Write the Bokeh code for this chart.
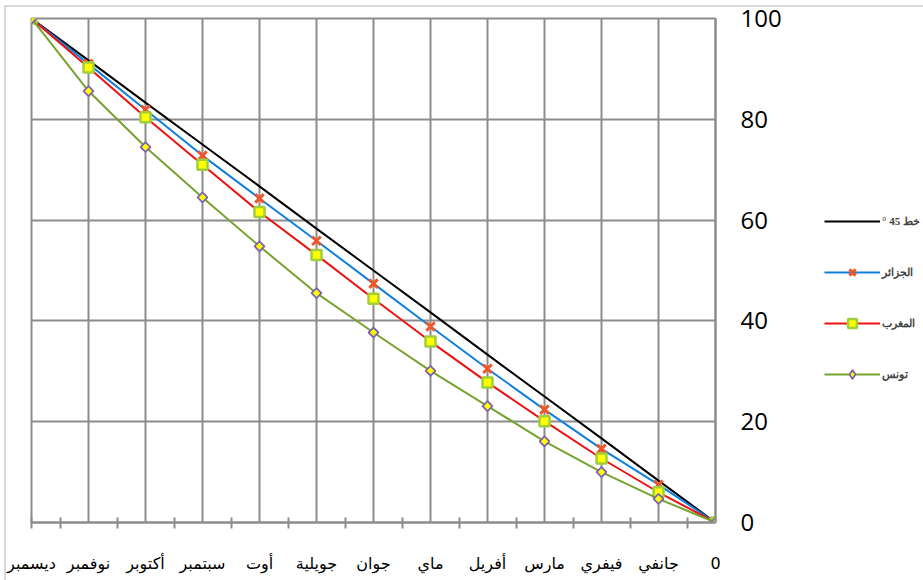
import math
from bokeh.plotting import figure
from bokeh.layouts import row
from bokeh.models import Range1d, FixedTicker, Legend, LegendItem
from bokeh.embed import file_html
from bokeh.resources import INLINE

# ---- data ----
months = ["0", "جانفي", "فيفري", "مارس", "أفريل", "ماي", "جوان",
          "جويلية", "أوت", "سبتمبر", "أكتوبر", "نوفمبر", "ديسمبر"]
line45 = [0, 8.3, 16.7, 25, 33.3, 41.7, 50, 58.3, 66.7, 75, 83.3, 91.7, 100]
algeria = [0, 7.5, 14.6, 22.4, 30.5, 38.9, 47.4, 55.9, 64.3, 72.8, 81.9, 91.0, 100]
morocco = [0, 6.0, 12.7, 20.1, 27.8, 35.9, 44.4, 53.1, 61.6, 71.0, 80.4, 90.3, 100]
tunisia = [0, 4.7, 10.0, 16.1, 23.1, 30.1, 37.7, 45.5, 54.8, 64.5, 74.5, 85.6, 100]
y_ticks = [0, 20, 40, 60, 80, 100]
legend_labels = ["° 45 خط", "الجزائر", "المغرب", "تونس"]

x = list(range(len(months)))
GRID = "#8c8c8c"
BORDER = "#d9d9d9"

# styles of the four series (shared by the chart and its legend)
S45 = dict(line_color="black", line_width=2)
S_ALG_L = dict(line_color="#0f7fe0", line_width=2)
S_ALG_M = dict(marker="x", size=12, line_color="#f0562a", line_width=3)
S_MOR_L = dict(line_color="#ee1111", line_width=2)
S_MOR_M = dict(marker="square", size=10, fill_color="#ffff00", line_color="#9fd03c", line_width=2.5)
S_TUN_L = dict(line_color="#78a22f", line_width=2)
S_TUN_M = dict(marker="square", angle=math.pi / 4, size=7, fill_color="#ffff00",
               line_color="#7f60b8", line_width=1.8)
S_TUN_M_LEG = dict(marker="diamond", size=7, fill_color="#ffff00",
                   line_color="#7f60b8", line_width=1.8)

p = figure(frame_width=684, frame_height=504,
           min_border_left=31, min_border_right=80,
           min_border_top=18, min_border_bottom=58,
           x_range=Range1d(len(months) - 1, 0), y_range=Range1d(0, 100),
           y_axis_location="right",
           output_backend="svg", toolbar_location=None)

p.background_fill_color = "white"
p.border_fill_alpha = 0
p.styles = {
    "background": f"linear-gradient({BORDER}, {BORDER}) 4px 5px / 2px 100% no-repeat, "
                  f"linear-gradient({BORDER}, {BORDER}) 4px 5px / 100% 2px no-repeat, white"
}
p.outline_line_color = GRID
p.outline_line_width = 2

# grids
p.xgrid.grid_line_color = GRID
p.xgrid.grid_line_width = 2
p.ygrid.grid_line_color = GRID
p.ygrid.grid_line_width = 2

# x axis
xa = p.xaxis[0]
xa.ticker = FixedTicker(ticks=x, minor_ticks=[i + 0.5 for i in x[:-1]] + [x[-1]])
xa.major_label_overrides = {i: m for i, m in enumerate(months)}
xa.major_tick_in = 0
xa.major_tick_out = 0
xa.minor_tick_in = 5
xa.minor_tick_out = 6
xa.minor_tick_line_color = GRID
xa.minor_tick_line_width = 2
xa.axis_line_color = GRID
xa.axis_line_width = 2
xa.major_label_standoff = 25
xa.major_label_text_font = "DejaVu Sans"
xa.major_label_text_font_size = "16px"
xa.major_label_text_color = "black"

# y axis
ya = p.yaxis[0]
ya.ticker = FixedTicker(ticks=y_ticks)
ya.major_tick_in = 0
ya.major_tick_out = 0
ya.minor_tick_in = 0
ya.minor_tick_out = 0
ya.axis_line_color = GRID
ya.axis_line_width = 2
ya.major_label_standoff = 25
ya.major_label_text_font = "Open Sans"
ya.major_label_text_font_size = "24px"
ya.major_label_text_color = "black"

# series
p.line(x, line45, **S45)
p.line(x, algeria, **S_ALG_L)
p.scatter(x, algeria, **S_ALG_M)
p.line(x, morocco, **S_MOR_L)
p.scatter(x, morocco, **S_MOR_M)
p.line(x, tunisia, **S_TUN_L)
p.scatter(x, tunisia, **S_TUN_M)

# ---- legend panel (a second, axis-less figure to the right) ----
# the same series are drawn here outside the visible range, only so that
# the legend can show their line / marker styles
q = figure(width=128, height=580, min_border=0,
           x_range=Range1d(1000, 1001), y_range=Range1d(1000, 1001),
           x_axis_type=None, y_axis_type=None,
           output_backend="svg", toolbar_location=None)
q.outline_line_color = None
q.background_fill_alpha = 0
q.border_fill_alpha = 0
q.styles = {
    "background": f"linear-gradient({BORDER}, {BORDER}) 0px 5px / 100% 2px no-repeat, white"
}
q45 = q.line(x, line45, **S45)
qa_l = q.line(x, algeria, **S_ALG_L)
qa_m = q.scatter(x, algeria, **S_ALG_M)
qm_l = q.line(x, morocco, **S_MOR_L)
qm_m = q.scatter(x, morocco, **S_MOR_M)
qt_l = q.line(x, tunisia, **S_TUN_L)
qt_m = q.scatter(x, tunisia, **S_TUN_M_LEG)

legend = Legend(items=[
    LegendItem(label=legend_labels[0], renderers=[q45]),
    LegendItem(label=legend_labels[1], renderers=[qa_l, qa_m]),
    LegendItem(label=legend_labels[2], renderers=[qm_l, qm_m]),
    LegendItem(label=legend_labels[3], renderers=[qt_l, qt_m]),
], location=(29, 137))
legend.glyph_width = 56
legend.glyph_height = 22
legend.label_height = 22
legend.spacing = 29
legend.padding = 0
legend.margin = 0
legend.border_line_alpha = 0
legend.background_fill_alpha = 0
legend.label_text_font = "Liberation Serif"
legend.label_text_font_size = "11px"
legend.label_text_font_style = "bold"
legend.label_standoff = 2
q.add_layout(legend)

layout = row(p, q, spacing=0)
open("out.html", "w").write(file_html(layout, INLINE))
